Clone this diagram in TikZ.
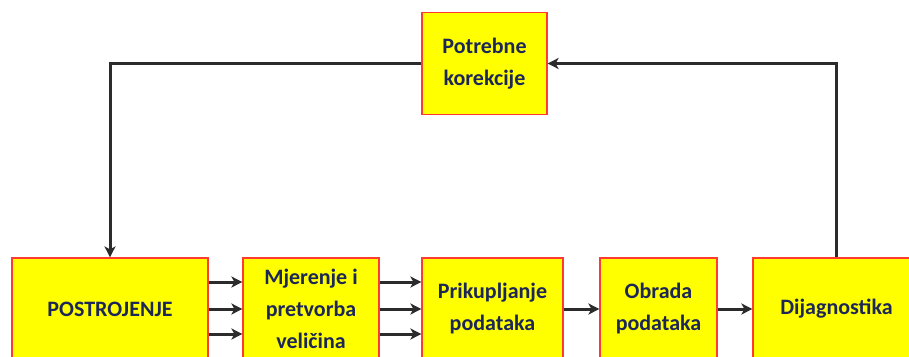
\documentclass[tikz,border=0pt]{standalone}
\usepackage{fontspec}
\setmainfont{Carlito}
\usetikzlibrary{arrows.meta,calc}
\definecolor{boxtext}{HTML}{1C2757}
\definecolor{boxfill}{HTML}{FFFF00}
\definecolor{boxline}{HTML}{FF3B30}
\definecolor{flowline}{HTML}{2B2B2B}
\begin{document}
\begin{tikzpicture}[x=1pt,y=-1pt,
	box/.style={draw=boxline,line width=1.2pt,fill=boxfill,text=boxtext,align=center,
		minimum height=102pt,inner sep=0pt,font=\fontsize{22}{32}\selectfont\bfseries},
	flow/.style={draw=flowline,line width=3pt,-{Stealth[length=11pt,width=11pt,inset=3pt]}}
	]
		\useasboundingbox (0,0) rectangle (909,356);
		
		% Blocks
		\node[box,minimum width=125pt] (korekcije) at (484.5,63.5) {Potrebne\\korekcije};
		\node[box,minimum width=196pt] (postrojenje) at (110,309) {POSTROJENJE};
		\node[box,minimum width=136pt] (mjerenje) at (311,309) {Mjerenje i\\pretvorba\\veličina};
		\node[box,minimum width=141pt] (prikupljanje) at (492.5,309) {Prikupljanje\\podataka};
		\node[box,minimum width=117pt] (obrada) at (658.5,309) {Obrada\\podataka};
		\node[box,minimum width=167pt] (dijagnostika) at (836.5,309) {Dijagnostika};
		
		% Signal arrows
		\foreach \dy in {27,0,-25}
		{
			\draw[flow] ([yshift=\dy pt]postrojenje.east) -- ([yshift=\dy pt]mjerenje.west);
			\draw[flow] ([yshift=\dy pt]mjerenje.east) -- ([yshift=\dy pt]prikupljanje.west);
		}
		\draw[flow] (prikupljanje) -- (obrada);
		\draw[flow] (obrada) -- (dijagnostika);
		
		% Feedback loop
		\draw[flow] (dijagnostika.north) |- (korekcije.east);
		\draw[flow] (korekcije.west) -| (postrojenje.north);
	\end{tikzpicture}
\end{document}
